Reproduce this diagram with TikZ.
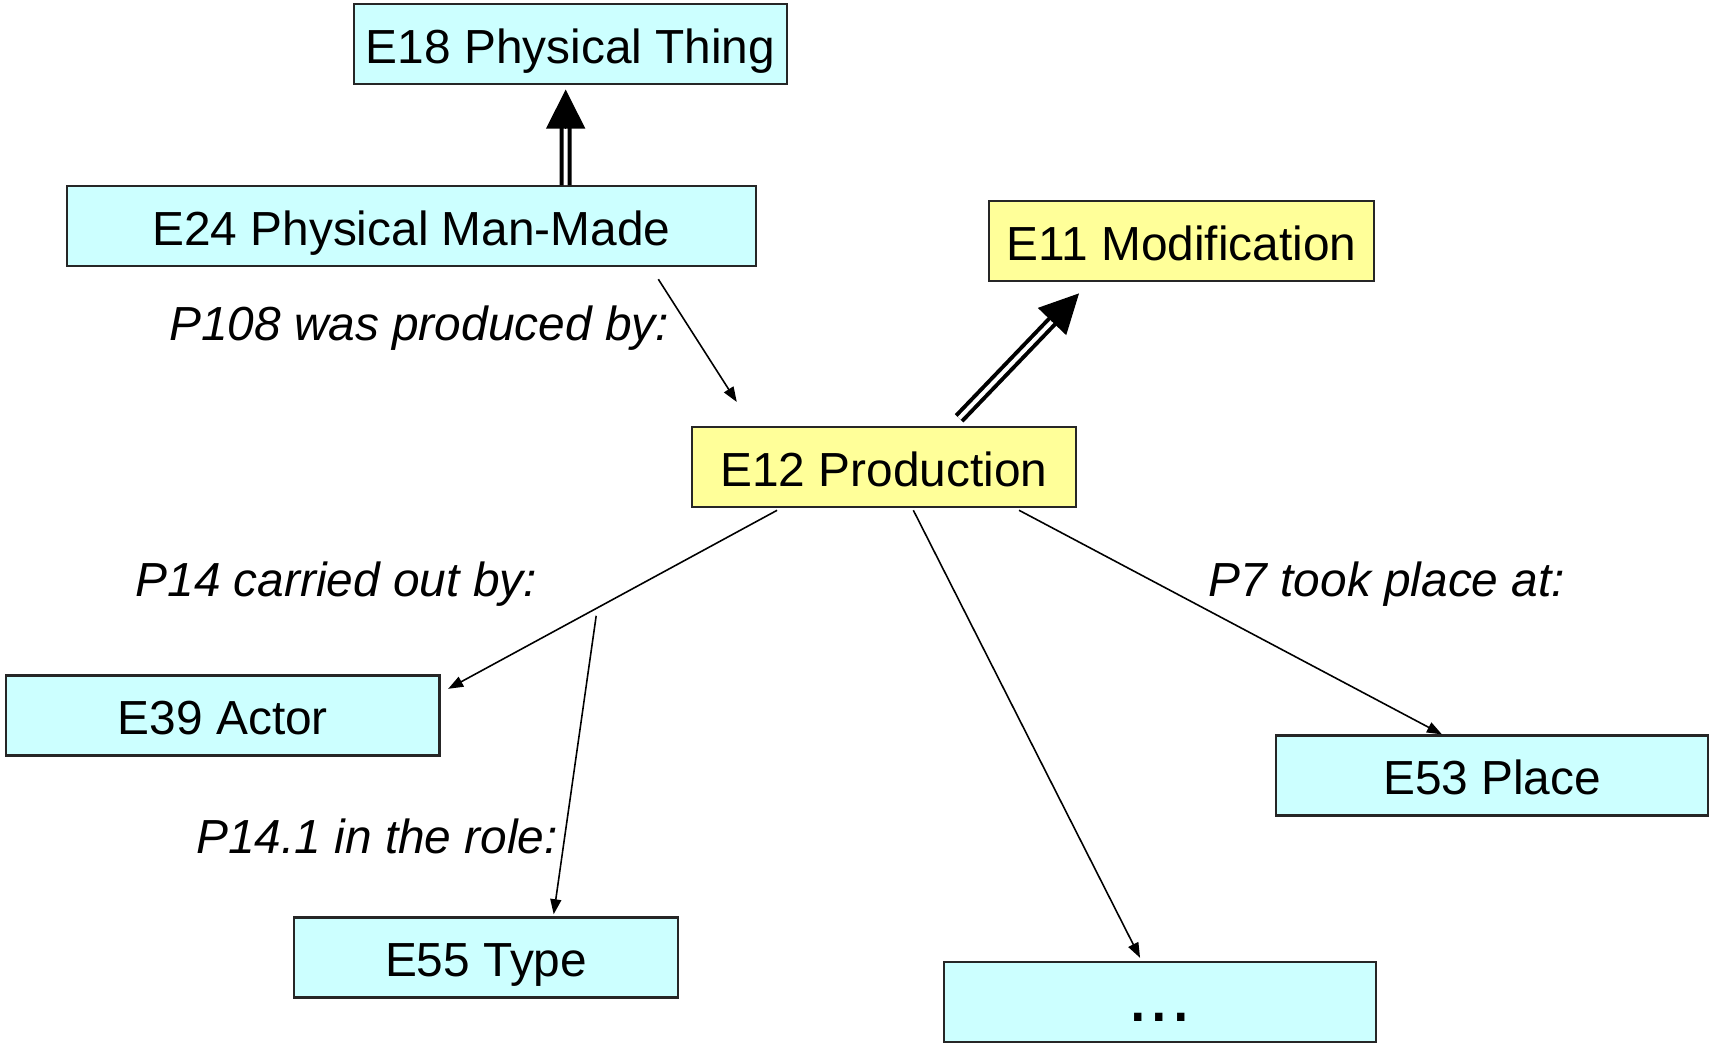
\documentclass[tikz,border=0pt]{standalone}
\usepackage{fontspec}
\setmainfont{Liberation Sans}
\usetikzlibrary{calc,arrows.meta}
\definecolor{thingcyan}{HTML}{CCFFFF}
\definecolor{eventyellow}{HTML}{FFFF99}
\tikzset{
  entity/.style={draw=black!85, line width=0.6pt, rectangle, inner sep=0pt,
    minimum height=0.8cm, text height=0.48cm, text depth=0.10cm,
    font=\fontsize{13.6}{16}\selectfont},
  thing/.style={entity, fill=thingcyan},
  event/.style={entity, fill=eventyellow},
  prop/.style={inner sep=0pt, text height=0.48cm, text depth=0.10cm,
    font=\fontsize{13.6}{16}\selectfont\itshape},
  rel/.style={line width=0.45pt, -{Triangle[length=0.15cm,width=0.11cm]}},
  isa/.style={double, line width=0.04cm, double distance=0.04cm},
  isatip/.style={line width=0.4pt, -{Triangle[length=0.39cm,width=0.39cm]}}
}

\begin{document}
\begin{tikzpicture}[x=0.0109cm, y=-0.0109cm]
  \useasboundingbox (0,0) rectangle (1568,959);

  \node at (523.5, 40.5) [thing, minimum width=4.33cm] (e18) {E18 Physical Thing};
  \node at (377.5, 207.5) [thing, minimum width=6.88cm] (e24) {E24 Physical Man-Made};
  \node at (1084, 221.5) [event, minimum width=3.84cm] (e11) {E11 Modification};
  \node at (811, 428.5) [event, minimum width=3.84cm] (e12) {E12 Production};
  \node at (204.5, 656.5) [thing, minimum width=4.33cm] (e39) {E39 Actor};
  \node at (1369, 711.5) [thing, minimum width=4.32cm] (e53) {E53 Place};
  \node at (446, 878.5) [thing, minimum width=3.84cm] (e55) {E55 Type};
  \node at (1064, 919.5) [thing, minimum width=4.32cm,
    font=\fontsize{22}{26}\selectfont] (more) {...};

  \node at (384.5, 295) [prop] (p108) {P108 was produced by:};
  \node at (308.5, 530) [prop] (p14) {P14 carried out by:};
  \node at (1272.5, 530) [prop] (p7) {P7 took place at:};
  \node at (346, 766) [prop] (p141) {P14.1 in the role:};

  % is-a links
  \coordinate (s1) at ($ (e24.north) + (141.5, 0) $);
  \coordinate (t1) at ($ (e18.south) + (-4.5, 4) $);
  \draw[isa] (s1) -- ($ (t1)!0.37cm!(s1) $);
  \draw[isatip] ($ (t1)!0.39cm!(s1) $) -- (t1);

  \coordinate (s2) at ($ (e12.north) + (69, -7) $);
  \coordinate (t2) at ($ (e11.south) + (-94, 10) $);
  \draw[isa] (s2) -- ($ (t2)!0.37cm!(s2) $);
  \draw[isatip] ($ (t2)!0.39cm!(s2) $) -- (t2);

  % properties
  \draw[rel] ($ (e24.south) + (226.5, 11) $) -- ($ (e12.north) + (-135, -22) $);
  \draw[rel] ($ (e12.south) + (-98, 2) $) -- ($ (e39.east) + (7, -24.5) $);
  \coordinate (role) at (547, 565);
  \draw[rel] (role) -- ($ (e55.north) + (62, -2) $);
  \draw[rel] ($ (e12.south) + (27, 2) $) -- ($ (more.north) + (-18, -3) $);
  \draw[rel] ($ (e12.south) + (124, 2) $) -- ($ (e53.north) + (-46, 0) $);
\end{tikzpicture}
\end{document}
